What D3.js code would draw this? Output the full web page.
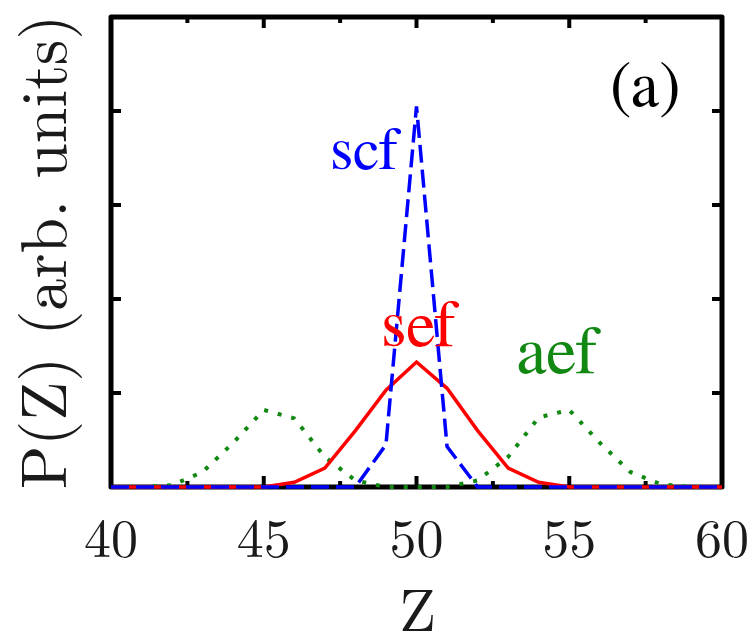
<!DOCTYPE html>
<html><head><meta charset="utf-8">
<script src="https://cdn.jsdelivr.net/npm/d3@7"></script>
<style>body{margin:0;background:#fff}svg{display:block}</style>
</head><body>
<script>
const zValues = [40,41,42,43,44,45,46,47,48,49,50,51,52,53,54,55,56,57,58,59,60];
const scf = [0,0,0,0,0,0,0,0,0,0.45,4.05,0.43,0,0,0,0,0,0,0,0,0];
const sef = [0,0,0,0,0,0,0.05,0.2,0.6,1.03,1.33,1.05,0.6,0.2,0.05,0,0,0,0,0,0];
const aef = [0,0,0.02,0.16,0.47,0.82,0.73,0.32,0.07,0,0,0,0.07,0.32,0.74,0.82,0.47,0.16,0.03,0,0];
const xMajorTicks = [45,50,55];
const xMinorTicks = [42.5,47.5,52.5,57.5];
const xTickLabels = [40,45,50,55,60];
const yTicks = [1,2,3,4];

const W=753,H=637;
const m={l:111,r:31,t:17,b:150};
const svg=d3.select("body").append("svg").attr("width",W).attr("height",H);
const x=d3.scaleLinear().domain([40,60]).range([m.l,W-m.r]);
const y=d3.scaleLinear().domain([0,5]).range([H-m.b,m.t]);
const cm='"Latin Modern Roman", FreeSerif';
const tm='FreeSerif';

const g=svg.append("g");
const tk=g.append("g").attr("stroke","#000").attr("stroke-width",4);
xMajorTicks.forEach(v=>{
  tk.append("line").attr("x1",x(v)).attr("x2",x(v)).attr("y1",y(0)).attr("y2",y(0)-11);
  tk.append("line").attr("x1",x(v)).attr("x2",x(v)).attr("y1",y(5)).attr("y2",y(5)+11);
});
xMinorTicks.forEach(v=>{
  tk.append("line").attr("x1",x(v)).attr("x2",x(v)).attr("y1",y(0)).attr("y2",y(0)-6);
  tk.append("line").attr("x1",x(v)).attr("x2",x(v)).attr("y1",y(5)).attr("y2",y(5)+6);
});
yTicks.forEach(v=>{
  tk.append("line").attr("x1",x(40)).attr("x2",x(40)+10).attr("y1",y(v)).attr("y2",y(v));
  tk.append("line").attr("x1",x(60)).attr("x2",x(60)-10).attr("y1",y(v)).attr("y2",y(v));
});
g.append("rect").attr("x",x(40)).attr("y",y(5)).attr("width",x(60)-x(40)).attr("height",y(0)-y(5))
 .attr("fill","none").attr("stroke","#000").attr("stroke-width",5).attr("stroke-linejoin","round");

g.append("g").selectAll("text").data(xTickLabels).join("text")
 .attr("x",d=>x(d)).attr("y",557).attr("text-anchor","middle")
 .style("font-family",cm).style("font-size","54px").attr("fill","#1a1a1a").text(d=>d);
g.append("text").attr("x",x(50)+1).attr("y",631).attr("text-anchor","middle")
 .style("font-family",cm).style("font-size","60px").attr("fill","#1a1a1a").text("Z");
g.append("text").attr("transform",`translate(66,252) rotate(-90)`).attr("text-anchor","middle")
 .style("font-family",cm).style("font-size","64px").attr("fill","#1a1a1a").text("P(Z) (arb. units)");

const line=arr=>d3.line().x((d,i)=>x(zValues[i])).y(d=>y(d))(arr);
g.append("path").attr("d",line(aef)).attr("fill","none").attr("stroke","#118811").attr("stroke-width",4)
 .attr("stroke-dasharray","4,10");
g.append("path").attr("d",line(sef)).attr("fill","none").attr("stroke","#ff0000").attr("stroke-width",3.5);
g.append("path").attr("d",line(scf)).attr("fill","none").attr("stroke","#0000ff").attr("stroke-width",3.5)
 .attr("stroke-dasharray","18,7");

const ann=[{t:"(a)",x:610,y:106,s:64,c:"#000"},{t:"scf",x:331,y:169,s:60,c:"#0000ff"},
           {t:"sef",x:382,y:346,s:66,c:"#ff0000"},{t:"aef",x:517,y:373,s:68,c:"#118811"}];
g.selectAll(".ann").data(ann).join("text")
 .attr("transform",d=>`translate(${d.x},${d.y}) scale(${d.s/40})`)
 .style("font-family",tm).style("font-size","40px").attr("fill",d=>d.c).text(d=>d.t);
</script>
</body></html>
